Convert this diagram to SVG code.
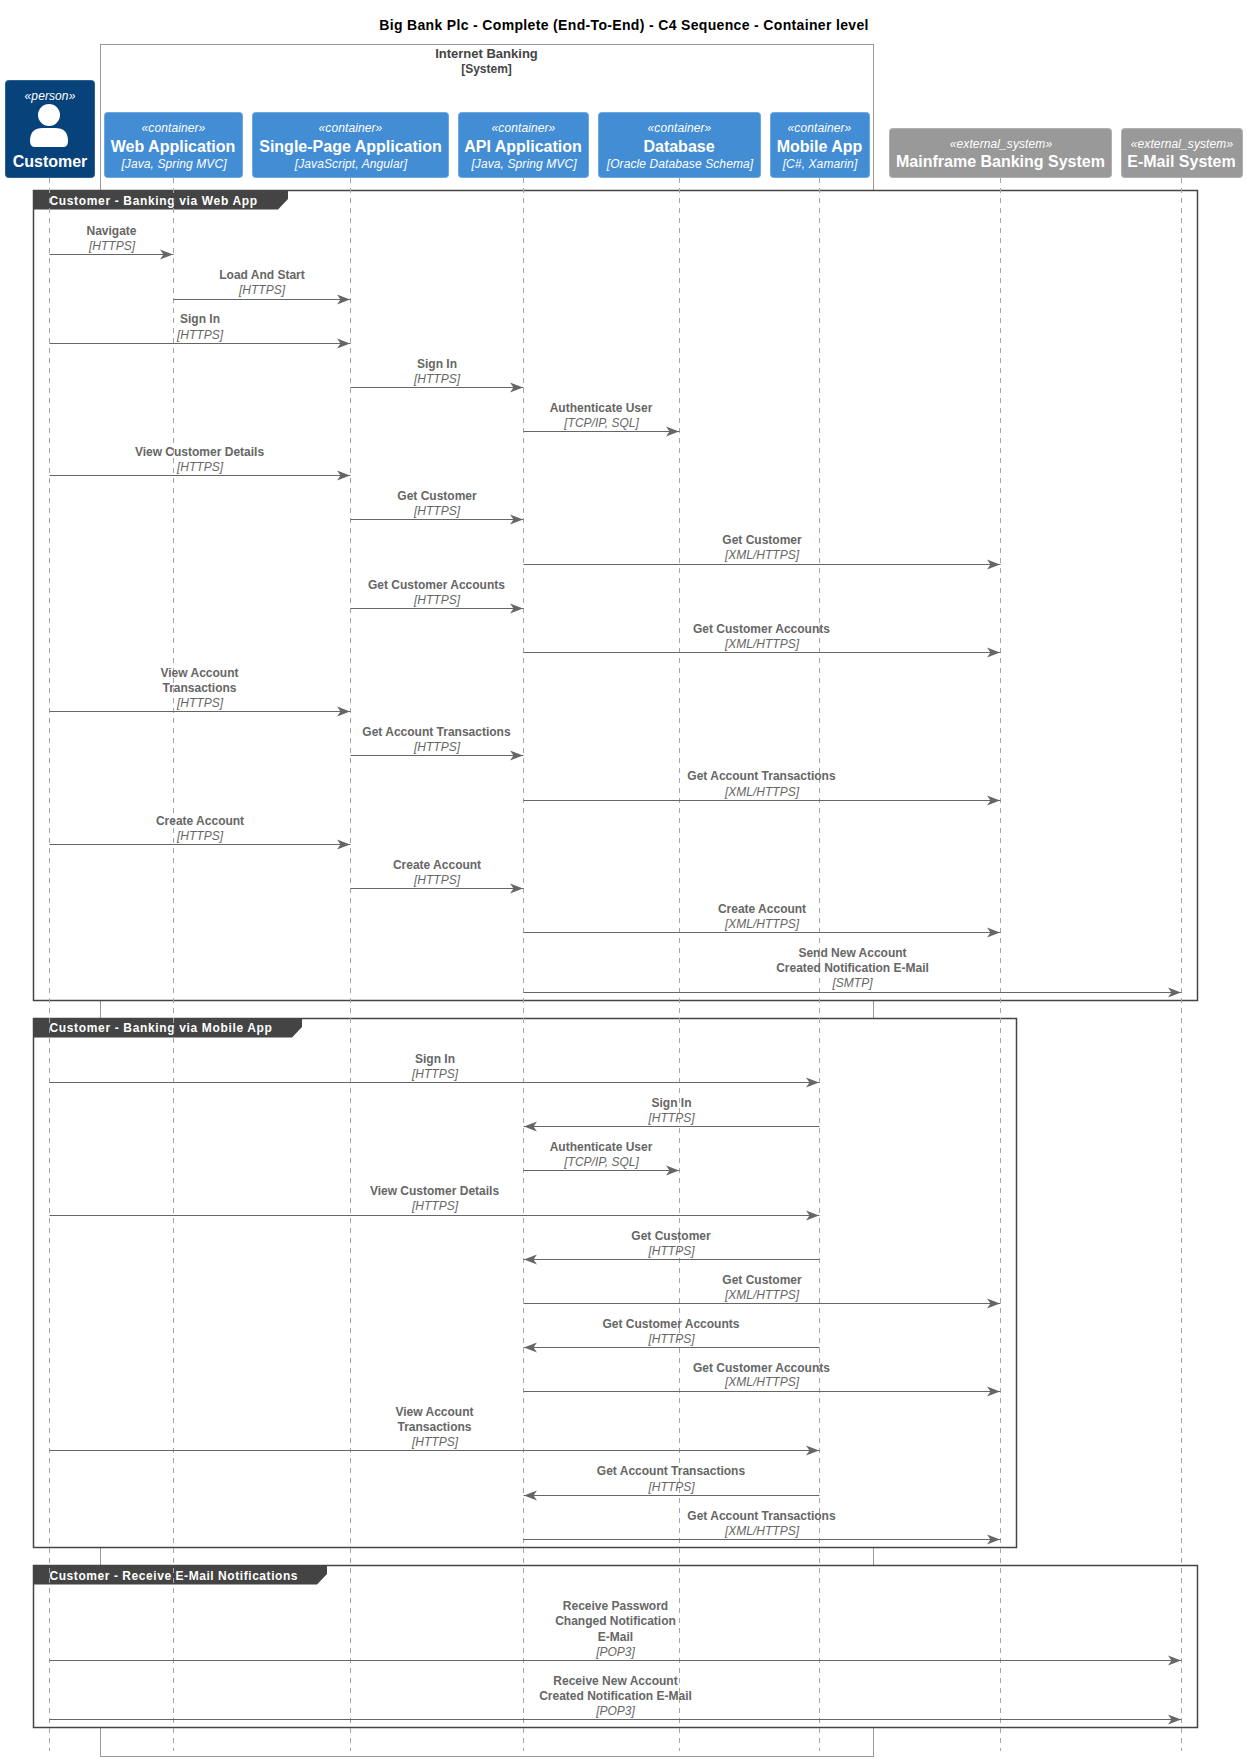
<svg xmlns="http://www.w3.org/2000/svg" width="1247" height="1762" viewBox="0 0 1247 1762">
<style>
text{font-family:"Liberation Sans",Arial,sans-serif;text-anchor:middle}
.title{font-size:14px;font-weight:bold;fill:#000;letter-spacing:.34px}
.sys{font-size:12px;font-weight:bold;fill:#444}
.sys1{font-size:13px}
.st{font-size:12px;font-style:italic;fill:#fff;letter-spacing:.1px}
.nm{font-size:16px;font-weight:bold;fill:#fff}
.ll{stroke:#a6a6a6;stroke-width:1;stroke-dasharray:5 5;fill:none}
.fr{fill:#fff;stroke:#444;stroke-width:1.5}
.tab{fill:#444}
.tabt{font-size:12px;font-weight:bold;fill:#fff;text-anchor:start;letter-spacing:.65px}
.tabn{letter-spacing:.56px}
.m{stroke:#666;stroke-width:1;fill:none;marker-end:url(#ah)}
.l{font-size:12px;font-weight:bold;fill:#666;transform:translateX(.5px)}
.t{font-size:12px;font-style:italic;fill:#666}
.box{stroke-width:1}
.p{fill:#08427B;stroke:#2a5f94}
.c{fill:#438DD5;stroke:#6ea8e0}
.e{fill:#999;stroke:#b0b0b0}
</style>
<defs>
<marker id="ah" markerUnits="userSpaceOnUse" markerWidth="14" markerHeight="11" refX="13.5" refY="5.5" orient="auto"><path d="M0 0.5L13 5.5L0 10.5L3.500 5.5Z" fill="#666" stroke="none"/></marker>
</defs>
<rect width="1247" height="1762" fill="#fff"/>
<text class="title" x="624" y="30">Big Bank Plc - Complete (End-To-End) - C4 Sequence - Container level</text>
<g id="internet-banking-boundary">
<rect x="100.5" y="44.5" width="773" height="1712" fill="none" stroke="#999" stroke-width="1"/>
<text class="sys sys1" x="486.5" y="58">Internet Banking</text>
<text class="sys" x="486.5" y="73">[System]</text>
</g>
<g id="frames">
<rect class="fr" x="33.5" y="190.5" width="1164" height="810"/>
<rect class="fr" x="33.5" y="1018.5" width="983" height="529"/>
<rect class="fr" x="33.5" y="1565.5" width="1164" height="162"/>
<path class="tab" d="M33 190H288V199L278 209.500H33Z"/>
<text class="tabt" x="49.500" y="205">Customer - Banking via Web App</text>
<path class="tab" d="M33 1018H302V1027L292 1037.500H33Z"/>
<text class="tabt" x="49.500" y="1032">Customer - Banking via Mobile App</text>
<path class="tab" d="M33 1565H327V1574L317 1584.500H33Z"/>
<text class="tabt tabn" x="49.500" y="1580">Customer - Receive E-Mail Notifications</text>
</g>
<g id="lifelines">
<line class="ll" x1="49.500" y1="178" x2="49.500" y2="1751"/>
<line class="ll" x1="173.500" y1="178" x2="173.500" y2="1751"/>
<line class="ll" x1="350.500" y1="178" x2="350.500" y2="1751"/>
<line class="ll" x1="523.500" y1="178" x2="523.500" y2="1751"/>
<line class="ll" x1="679.500" y1="178" x2="679.500" y2="1751"/>
<line class="ll" x1="819.500" y1="178" x2="819.500" y2="1751"/>
<line class="ll" x1="1000.500" y1="178" x2="1000.500" y2="1751"/>
<line class="ll" x1="1181.500" y1="178" x2="1181.500" y2="1751"/>
</g>
<g id="customer">
<rect class="box p" x="5.500" y="80.500" width="89" height="97" rx="3"/>
<text class="st" x="50" y="100">«person»</text>
<circle cx="49" cy="115" r="11" fill="#fff"/>
<path d="M30 141Q30 128 43 128H55Q68 128 68 141Q68 147 63 147H35Q30 147 30 141Z" fill="#fff"/>
<text class="nm" x="50" y="167">Customer</text>
</g>
<g id="web-application">
<rect class="box c" x="104.500" y="112.500" width="138" height="65" rx="3"/>
<text class="st" x="173.500" y="132">«container»</text>
<text class="nm" x="173" y="152">Web Application</text>
<text class="st" x="174" y="168">[Java, Spring MVC]</text>
</g>
<g id="single-page-application">
<rect class="box c" x="252.500" y="112.500" width="196" height="65" rx="3"/>
<text class="st" x="350.500" y="132">«container»</text>
<text class="nm" x="350.500" y="152">Single-Page Application</text>
<text class="st" x="351" y="168">[JavaScript, Angular]</text>
</g>
<g id="api-application">
<rect class="box c" x="458.500" y="112.500" width="130" height="65" rx="3"/>
<text class="st" x="523.500" y="132">«container»</text>
<text class="nm" x="523" y="152">API Application</text>
<text class="st" x="524" y="168">[Java, Spring MVC]</text>
</g>
<g id="database">
<rect class="box c" x="598.500" y="112.500" width="162" height="65" rx="3"/>
<text class="st" x="679.500" y="132">«container»</text>
<text class="nm" x="679" y="152">Database</text>
<text class="st" x="680" y="168">[Oracle Database Schema]</text>
</g>
<g id="mobile-app">
<rect class="box c" x="770.500" y="112.500" width="99" height="65" rx="3"/>
<text class="st" x="819.500" y="132">«container»</text>
<text class="nm" x="819.500" y="152">Mobile App</text>
<text class="st" x="820" y="168">[C#, Xamarin]</text>
</g>
<g id="mainframe-banking-system">
<rect class="box e" x="889.500" y="128.500" width="222" height="49" rx="3"/>
<text class="st" x="1001" y="148">«external_system»</text>
<text class="nm" x="1000.500" y="167">Mainframe Banking System</text>
</g>
<g id="email-system">
<rect class="box e" x="1121.500" y="128.500" width="121" height="49" rx="3"/>
<text class="st" x="1182" y="148">«external_system»</text>
<text class="nm" x="1181.500" y="167">E-Mail System</text>
</g>
<g id="connectors">
<line class="m" x1="49.500" y1="254.500" x2="173.500" y2="254.500"/><text class="l" x="111" y="235">Navigate</text><text class="t" x="112" y="250">[HTTPS]</text>
<line class="m" x1="173.500" y1="299.500" x2="350.500" y2="299.500"/><text class="l" x="261.500" y="279">Load And Start</text><text class="t" x="262" y="294">[HTTPS]</text>
<line class="m" x1="49.500" y1="343.500" x2="350.500" y2="343.500"/><text class="l" x="199.500" y="323">Sign In</text><text class="t" x="200" y="339">[HTTPS]</text>
<line class="m" x1="350.500" y1="387.500" x2="523.500" y2="387.500"/><text class="l" x="436.500" y="368">Sign In</text><text class="t" x="437" y="383">[HTTPS]</text>
<line class="m" x1="523.500" y1="431.500" x2="679.500" y2="431.500"/><text class="l" x="600.500" y="412">Authenticate User</text><text class="t" x="601.500" y="427">[TCP/IP, SQL]</text>
<line class="m" x1="49.500" y1="475.500" x2="350.500" y2="475.500"/><text class="l" x="199" y="456">View Customer Details</text><text class="t" x="200" y="471">[HTTPS]</text>
<line class="m" x1="350.500" y1="519.500" x2="523.500" y2="519.500"/><text class="l" x="436.500" y="500">Get Customer</text><text class="t" x="437" y="515">[HTTPS]</text>
<line class="m" x1="523.500" y1="564.500" x2="1000.500" y2="564.500"/><text class="l" x="761.500" y="544">Get Customer</text><text class="t" x="762" y="559">[XML/HTTPS]</text>
<line class="m" x1="350.500" y1="608.500" x2="523.500" y2="608.500"/><text class="l" x="436" y="589">Get Customer Accounts</text><text class="t" x="437" y="604">[HTTPS]</text>
<line class="m" x1="523.500" y1="652.500" x2="1000.500" y2="652.500"/><text class="l" x="761" y="633">Get Customer Accounts</text><text class="t" x="762" y="648">[XML/HTTPS]</text>
<line class="m" x1="49.500" y1="711.500" x2="350.500" y2="711.500"/><text class="l" x="199" y="677">View Account</text><text class="l" x="199" y="692">Transactions</text><text class="t" x="200" y="707">[HTTPS]</text>
<line class="m" x1="350.500" y1="755.500" x2="523.500" y2="755.500"/><text class="l" x="436" y="736">Get Account Transactions</text><text class="t" x="437" y="751">[HTTPS]</text>
<line class="m" x1="523.500" y1="800.500" x2="1000.500" y2="800.500"/><text class="l" x="761" y="780">Get Account Transactions</text><text class="t" x="762" y="796">[XML/HTTPS]</text>
<line class="m" x1="49.500" y1="844.500" x2="350.500" y2="844.500"/><text class="l" x="199.500" y="825">Create Account</text><text class="t" x="200" y="840">[HTTPS]</text>
<line class="m" x1="350.500" y1="888.500" x2="523.500" y2="888.500"/><text class="l" x="436.500" y="869">Create Account</text><text class="t" x="437" y="884">[HTTPS]</text>
<line class="m" x1="523.500" y1="932.500" x2="1000.500" y2="932.500"/><text class="l" x="761.500" y="913">Create Account</text><text class="t" x="762" y="928">[XML/HTTPS]</text>
<line class="m" x1="523.500" y1="992.500" x2="1181.500" y2="992.500"/><text class="l" x="852" y="957">Send New Account</text><text class="l" x="852" y="972">Created Notification E-Mail</text><text class="t" x="852.500" y="987">[SMTP]</text>
<line class="m" x1="49.500" y1="1082.500" x2="819.500" y2="1082.500"/><text class="l" x="434.500" y="1063">Sign In</text><text class="t" x="435" y="1078">[HTTPS]</text>
<line class="m" x1="819.500" y1="1126.500" x2="523.500" y2="1126.500"/><text class="l" x="671" y="1107">Sign In</text><text class="t" x="671.500" y="1122">[HTTPS]</text>
<line class="m" x1="523.500" y1="1170.500" x2="679.500" y2="1170.500"/><text class="l" x="600.500" y="1151">Authenticate User</text><text class="t" x="601.500" y="1166">[TCP/IP, SQL]</text>
<line class="m" x1="49.500" y1="1215.500" x2="819.500" y2="1215.500"/><text class="l" x="434" y="1195">View Customer Details</text><text class="t" x="435" y="1210">[HTTPS]</text>
<line class="m" x1="819.500" y1="1259.500" x2="523.500" y2="1259.500"/><text class="l" x="670.500" y="1240">Get Customer</text><text class="t" x="671.500" y="1255">[HTTPS]</text>
<line class="m" x1="523.500" y1="1303.500" x2="1000.500" y2="1303.500"/><text class="l" x="761.500" y="1284">Get Customer</text><text class="t" x="762" y="1299">[XML/HTTPS]</text>
<line class="m" x1="819.500" y1="1347.500" x2="523.500" y2="1347.500"/><text class="l" x="670.500" y="1328">Get Customer Accounts</text><text class="t" x="671.500" y="1343">[HTTPS]</text>
<line class="m" x1="523.500" y1="1391.500" x2="1000.500" y2="1391.500"/><text class="l" x="761" y="1372">Get Customer Accounts</text><text class="t" x="762" y="1386">[XML/HTTPS]</text>
<line class="m" x1="49.500" y1="1450.500" x2="819.500" y2="1450.500"/><text class="l" x="434" y="1416">View Account</text><text class="l" x="434" y="1431">Transactions</text><text class="t" x="435" y="1446">[HTTPS]</text>
<line class="m" x1="819.500" y1="1495.500" x2="523.500" y2="1495.500"/><text class="l" x="670.500" y="1475">Get Account Transactions</text><text class="t" x="671.500" y="1491">[HTTPS]</text>
<line class="m" x1="523.500" y1="1539.500" x2="1000.500" y2="1539.500"/><text class="l" x="761" y="1520">Get Account Transactions</text><text class="t" x="762" y="1535">[XML/HTTPS]</text>
<line class="m" x1="49.500" y1="1660.500" x2="1181.500" y2="1660.500"/><text class="l" x="615" y="1610">Receive Password</text><text class="l" x="615" y="1625">Changed Notification</text><text class="l" x="615" y="1641">E-Mail</text><text class="t" x="615.500" y="1656">[POP3]</text>
<line class="m" x1="49.500" y1="1719.500" x2="1181.500" y2="1719.500"/><text class="l" x="615" y="1685">Receive New Account</text><text class="l" x="615" y="1700">Created Notification E-Mail</text><text class="t" x="615.500" y="1715">[POP3]</text>
</g>
</svg>
